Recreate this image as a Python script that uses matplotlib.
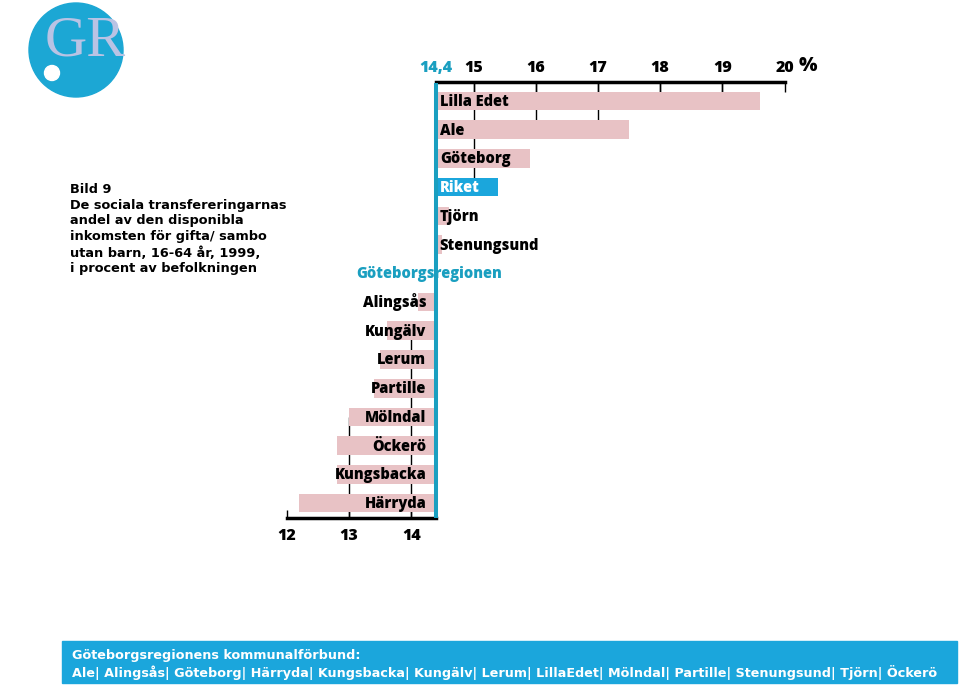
import matplotlib.pyplot as plt
from matplotlib.patches import Circle, Rectangle

# Bild 9 - sociala transfereringar, gifta/sambo utan barn 16-64 år, 1999 (%)
kommuner = ['Lilla Edet', 'Ale', 'Göteborg', 'Riket', 'Tjörn', 'Stenungsund',
            'Göteborgsregionen', 'Alingsås', 'Kungälv', 'Lerum', 'Partille',
            'Mölndal', 'Öckerö', 'Kungsbacka', 'Härryda']
andel = [19.6, 17.5, 15.9, 15.4, 14.6, 14.5,
         14.4, 14.1, 13.6, 13.5, 13.4,
         13.0, 12.8, 12.8, 12.2]
medel = 14.4  # Göteborgsregionen
top_ticks = [14.4, 15, 16, 17, 18, 19, 20]
top_labels = ['14,4', '15', '16', '17', '18', '19', '20']
bottom_ticks = [12, 13, 14]
bottom_labels = ['12', '13', '14']

title = ("Bild 9\nDe sociala transfereringarnas\nandel av den disponibla\n"
         "inkomsten för gifta/ sambo\nutan barn, 16-64 år, 1999,\n"
         "i procent av befolkningen")
footer1 = "Göteborgsregionens kommunalförbund:"
footer2 = ("Ale| Alingsås| Göteborg| Härryda| Kungsbacka| Kungälv| Lerum| "
           "LillaEdet| Mölndal| Partille| Stenungsund| Tjörn| Öckerö")

PINK = '#e8c2c5'
CYAN = '#1ba6dc'
TEAL = '#1a9fc0'
LOGO = '#1ca7d4'
LAVENDER = '#b9c3e4'
LABEL_FONT = ['Open Sans', 'DejaVu Sans']
TEXT_FONT = ['DejaVu Sans']

W, H = 960, 686


def fx(px):
    return px / W


def fy(py):
    return 1 - py / H


fig = plt.figure(figsize=(W / 100, H / 100), dpi=100)

# main chart axes, 12..20 along x
ytop, ybot = -0.644, 14.52
ax = fig.add_axes([fx(287), fy(518), fx(784.6) - fx(287), fy(82.5) - fy(518)])
ax.set_xlim(12, 20)
ax.set_ylim(ybot, ytop)

rows = list(range(len(kommuner)))
colors = [CYAN if k == 'Riket' else PINK for k in kommuner]
ax.barh(rows, [v - medel for v in andel], left=medel, height=0.65,
        color=colors, zorder=2)

# short gridlines, reaching only to the last bar that covers the value
for t in top_ticks[1:]:
    reach = [i for i, v in enumerate(andel) if v >= t]
    if reach:
        ax.vlines(t, ytop, max(reach), color='black', lw=1, zorder=1)
for t in bottom_ticks:
    reach = [i for i, v in enumerate(andel) if v <= t]
    if reach:
        ax.vlines(t, min(reach), ybot, color='black', lw=1, zorder=1)

ax.vlines(medel, ytop, ybot, color=TEAL, lw=2.9, zorder=3)

# bar labels
for i, (k, v) in enumerate(zip(kommuner, andel)):
    if k == 'Göteborgsregionen':
        ax.annotate(k, (medel, i), xytext=(-7, -5), textcoords='offset pixels',
                    ha='center', va='baseline', color=TEAL, fontsize=10.5,
                    fontweight='heavy', family=LABEL_FONT, zorder=4)
    elif v > medel:
        ax.annotate(k, (medel, i), xytext=(3.5, -5), textcoords='offset pixels',
                    ha='left', va='baseline',
                    color='white' if k == 'Riket' else 'black',
                    fontsize=10.5, fontweight='heavy', family=LABEL_FONT, zorder=4)
    else:
        ax.annotate(k, (medel, i), xytext=(-10, -5), textcoords='offset pixels',
                    ha='right', va='baseline', color='black', fontsize=10.5,
                    fontweight='heavy', family=LABEL_FONT, zorder=4)

# bottom axis
for s in ['top', 'left', 'right']:
    ax.spines[s].set_visible(False)
ax.spines['bottom'].set_bounds(12, medel)
ax.spines['bottom'].set_linewidth(2.5)
ax.set_yticks([])
ax.set_xticks(bottom_ticks, labels=bottom_labels)
ax.tick_params(axis='x', direction='in', length=6, width=1, pad=7)
for lab in ax.get_xticklabels():
    lab.set_fontsize(11.5)
    lab.set_fontweight('heavy')
    lab.set_family(LABEL_FONT)

# top axis
secax = ax.secondary_xaxis('top')
secax.set_xticks(top_ticks, labels=top_labels)
secax.spines['top'].set_bounds(medel, 20)
secax.spines['top'].set_linewidth(2.5)
secax.tick_params(axis='x', direction='in', length=7, width=1, pad=5)
for lab in secax.get_xticklabels():
    lab.set_fontsize(11.5)
    lab.set_fontweight('heavy')
    lab.set_family(LABEL_FONT)
secax.get_xticklabels()[0].set_color(TEAL)
fig.text(fx(808), fy(66), '%', ha='center', va='center', fontsize=14,
         fontweight='heavy', family=LABEL_FONT)

# title block
fig.text(fx(70), fy(183), title, ha='left', va='top', fontsize=9.3,
         fontweight='bold', family=TEXT_FONT, linespacing=1.27)

# logo
lax = fig.add_axes([0, fy(100), fx(140), 100 / H])
lax.set_xlim(0, 140)
lax.set_ylim(100, 0)
lax.axis('off')
lax.add_patch(Circle((76, 50), 47, color=LOGO))
lax.add_patch(Circle((52, 73), 7.5, color='white'))
lax.text(85, 42, 'GR', ha='center', va='center', fontsize=42, color=LAVENDER,
         family=['Liberation Serif', 'DejaVu Serif'])

# footer band
fig.patches.append(Rectangle((fx(62), fy(683)), fx(957) - fx(62), (683 - 641) / H,
                             transform=fig.transFigure, color=CYAN, zorder=0))
fig.text(fx(72), fy(655), footer1, ha='left', va='center', color='white',
         fontsize=9.2, fontweight='bold', family=TEXT_FONT)
fig.text(fx(72), fy(672), footer2, ha='left', va='center', color='white',
         fontsize=9.2, fontweight='bold', family=TEXT_FONT)

fig.savefig('out.png', dpi=100)
